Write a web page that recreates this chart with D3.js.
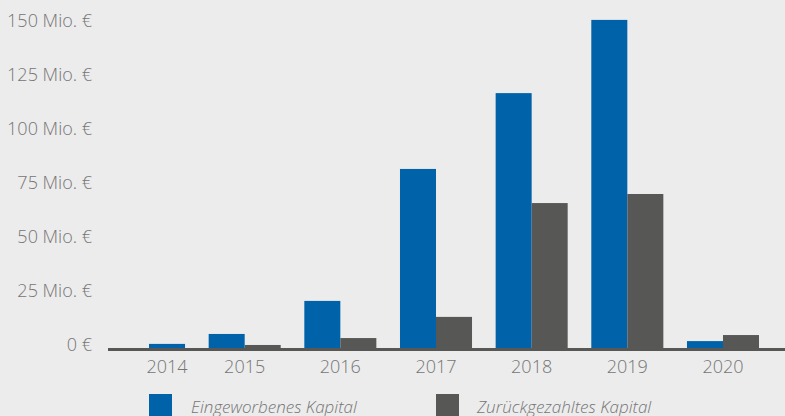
<!DOCTYPE html>
<html>
<head>
<meta charset="utf-8">
<script src="https://cdn.jsdelivr.net/npm/d3@7"></script>
<style>
  html, body { margin: 0; padding: 0; background: #ececec; }
  svg { display: block; font-family: 'Open Sans', sans-serif; font-weight: 300; }
</style>
</head>
<body>
<div id="chart"></div>
<script>
const years = ['2014', '2015', '2016', '2017', '2018', '2019', '2020'];
// Mio. €
const raised = [1.9, 6.5, 21.8, 82.9, 118, 151.9, 3.2];
const repaid = [null, 1.4, 4.6, 14.4, 67.1, 71.3, 6.0];
const seriesNames = ['Eingeworbenes Kapital', 'Zurückgezahltes Kapital'];
const yTicks = [0, 25, 50, 75, 100, 125, 150];

const WIDTH = 785;
const HEIGHT = 416;
const BLUE = '#0063aa';
const GREY = '#575756';
const TEXT = '#757575';

const svg = d3.select('#chart')
  .append('svg')
  .attr('width', WIDTH)
  .attr('height', HEIGHT);

const x = d3.scaleBand().domain(years).range([113, 759]).paddingInner(0.247).paddingOuter(0);
const xs = d3.scaleBand().domain(seriesNames).range([0, x.bandwidth()]);
const y = d3.scaleLinear().domain([0, 150]).range([348, 24]);
const color = d3.scaleOrdinal().domain(seriesNames).range([BLUE, GREY]);

// y labels
svg.append('g')
  .selectAll('text')
  .data(yTicks)
  .join('text')
  .attr('x', 92)
  .attr('y', (d) => y(d) + 3)
  .attr('text-anchor', 'end')
  .attr('font-size', '18px')
  .attr('fill', TEXT)
  .text((d) => (d === 0 ? '0 €' : `${d} Mio. €`));

const rows = years.map((year, i) => ({ year, values: [raised[i], repaid[i]] }));

// a year with only one value gets its bar in the right-hand slot, label centred on it
function barX(row, idx) {
  const single = row.values.filter((v) => v != null).length === 1;
  return x(row.year) + (single ? xs(seriesNames[1]) : xs(seriesNames[idx]));
}

const bars = [];
rows.forEach((row) => {
  row.values.forEach((v, idx) => {
    if (v != null) bars.push({ row, idx, v });
  });
});

svg.append('g')
  .selectAll('rect')
  .data(bars)
  .join('rect')
  .attr('x', (d) => barX(d.row, d.idx))
  .attr('y', (d) => y(d.v))
  .attr('width', xs.bandwidth())
  .attr('height', (d) => y(0) - y(d.v) + 1)
  .attr('fill', (d) => color(seriesNames[d.idx]));

// baseline
svg.append('rect')
  .attr('x', 108)
  .attr('y', y(0))
  .attr('width', WIDTH - 108)
  .attr('height', 3)
  .attr('fill', GREY);

// x labels
svg.append('g')
  .selectAll('text')
  .data(rows)
  .join('text')
  .attr('x', (row) => {
    const single = row.values.filter((v) => v != null).length === 1;
    return single ? barX(row, 0) + xs.bandwidth() / 2 : x(row.year) + x.bandwidth() / 2;
  })
  .attr('y', 373)
  .attr('text-anchor', 'middle')
  .attr('font-size', '18px')
  .attr('fill', TEXT)
  .text((row) => row.year);

// legend
const legendX = [149, 436];
const legend = svg.append('g')
  .selectAll('g')
  .data(seriesNames)
  .join('g')
  .attr('transform', (d, i) => `translate(${legendX[i]},394)`);

legend.append('rect')
  .attr('width', 23)
  .attr('height', 23)
  .attr('fill', (d) => color(d));

legend.append('text')
  .attr('x', (d, i) => (i === 0 ? 42 : 41))
  .attr('y', 19)
  .attr('font-size', '17px')
  .attr('font-style', 'italic')
  .attr('fill', TEXT)
  .text((d) => d);
</script>
</body>
</html>
